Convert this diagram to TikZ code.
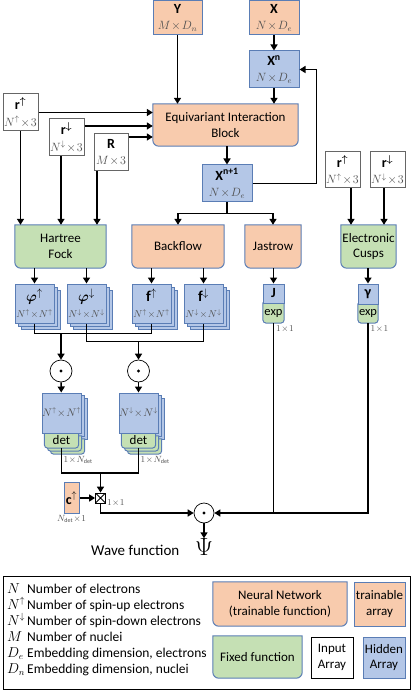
\documentclass[tikz,border=0pt]{standalone}
\usepackage{amsmath,amssymb}
\usepackage{fontspec}
\setmainfont{Carlito}
\usepackage{tikz}
\usetikzlibrary{calc,arrows.meta,positioning,shadows,backgrounds}

\definecolor{nnfill}{HTML}{F8CBAD}
\definecolor{hidfill}{HTML}{B4C7E7}
\definecolor{fixfill}{HTML}{C5E0B4}
\definecolor{bord}{HTML}{5A7DB5}
\definecolor{dimtxt}{HTML}{505050}

\newcommand{\arrtxt}[2]{{\fontsize{14}{14}\selectfont\bfseries #1}\\[1pt]{\color{dimtxt}\fontsize{11.5}{11.5}\selectfont\medmuskip=1.5mu$#2$}}
\newcommand{\stacktxt}[2]{{\fontsize{15}{15}\selectfont$#1$}\\[1pt]{\color{dimtxt}\fontsize{10}{10}\selectfont$#2$}}
\newcommand{\keysym}[1]{\makebox[20pt][l]{$#1$}}
\newcommand{\fnrad}{6pt}
% rounded lower corners, [offset] node fill
\newcommand{\fnpath}[3][0]{%
  \draw[fn line, fill=#3] ([shift={(#1pt,-#1pt)}]#2.north west) -- ([shift={(#1pt,-#1pt)}]#2.north east)
    -- ([shift={(#1pt,-#1pt+\fnrad)}]#2.south east) arc[start angle=0,end angle=-90,radius=\fnrad]
    -- ([shift={(#1pt+\fnrad,-#1pt)}]#2.south west) arc[start angle=-90,end angle=-180,radius=\fnrad] -- cycle;}
\newcommand{\stackrect}[2]{\draw[fn line, fill=hidfill] ([shift={(#2pt,-#2pt)}]#1.north west) rectangle ([shift={(#2pt,-#2pt)}]#1.south east);}

\tikzset{
    every node/.style={font=\fontsize{13}{15.5}\selectfont},
    box/.style={draw=bord, line width=1pt, inner sep=0pt, align=center, minimum width=50pt, minimum height=37pt},
    in node/.style={box, draw=black!60, fill=white},
    hid node/.style={box, fill=hidfill},
    nn node/.style={box, fill=nnfill},
    fn node/.style={inner sep=0pt, align=center, minimum height=43pt},
    stack node/.style={hid node, minimum width=39pt, minimum height=39pt,
        copy shadow={shadow xshift=6pt, shadow yshift=-6pt}, copy shadow={shadow xshift=3pt, shadow yshift=-3pt}},
    dot node/.style={circle, draw, line width=0.7pt, minimum size=22pt, inner sep=0pt,
        path picture={\fill (path picture bounding box.center) circle (1.7pt);}},
    dim label/.style={text=dimtxt, inner sep=1pt, font=\fontsize{9}{10}\selectfont},
    fn line/.style={draw=bord, line width=1pt},
    wire/.style={line width=1.6pt}
}

\begin{document}
\begin{tikzpicture}[x=1pt,y=1pt,>={Triangle[length=6pt,width=7pt]}]
    \useasboundingbox (0,0) rectangle (415,-692);

    % inputs and interaction block
    \node[nn node, minimum width=49pt, minimum height=34pt] (Y) at (177.5,-18) {\arrtxt{Y}{M\times D_n}};
    \node[nn node, minimum height=34pt] (X) at (274,-18) {\arrtxt{X}{N\times D_e}};
    \node[hid node] (xn) at (274,-69.5) {\arrtxt{X\textsuperscript{n}}{N\times D_e}};
    \node[fn node, minimum width=145pt, minimum height=42pt] (eib) at (225.5,-125) {Equivariant Interaction\\Block};
    \node[in node, minimum width=35pt] (rup) at (20.5,-112.5) {\arrtxt{r$^{\boldsymbol{\uparrow}}$}{N^{\uparrow}\times 3}};
    \node[in node, minimum width=35pt] (rdn) at (66.5,-137.5) {\arrtxt{r$^{\boldsymbol{\downarrow}}$}{N^{\downarrow}\times 3}};
    \node[in node, minimum width=34pt] (R) at (111,-152.5) {\arrtxt{R}{M\times 3}};
    \node[hid node] (xn1) at (227,-183.5) {\arrtxt{X\textsuperscript{n+1}}{N\times D_e}};
    \node[in node, minimum width=35pt, minimum height=36pt] (rup2) at (342.5,-170) {\arrtxt{r$^{\boldsymbol{\uparrow}}$}{N^{\uparrow}\times 3}};
    \node[in node, minimum width=35pt, minimum height=36pt] (rdn2) at (387.5,-170) {\arrtxt{r$^{\boldsymbol{\downarrow}}$}{N^{\downarrow}\times 3}};

    % functions
    \node[fn node, minimum width=91pt] (hf) at (60.5,-246.5) {Hartree\\Fock};
    \node[fn node, minimum width=92pt] (bf) at (178,-246.5) {Backflow};
    \node[fn node, minimum width=56pt] (js) at (273,-246.5) {Jastrow};
    \node[fn node, minimum width=55pt] (ec) at (368.5,-246.5) {Electronic\\Cusps};

    % orbitals
    \node[stack node] (phiu) at (34.5,-303.5) {\stacktxt{\boldsymbol{\varphi}^{\uparrow}}{N^{\uparrow}\!\times\! N^{\uparrow}}};
    \node[stack node] (phid) at (86.5,-303.5) {\stacktxt{\boldsymbol{\varphi}^{\downarrow}}{N^{\downarrow}\!\times\! N^{\downarrow}}};
    \node[stack node] (fu) at (151.5,-303.5) {\stacktxt{\mathbf{f}^{\uparrow}}{N^{\uparrow}\!\times\! N^{\uparrow}}};
    \node[stack node] (fd) at (203.5,-303.5) {\stacktxt{\mathbf{f}^{\downarrow}}{N^{\downarrow}\!\times\! N^{\downarrow}}};
    \node[hid node, minimum width=21pt, minimum height=19pt, font=\fontsize{14}{14}\selectfont\bfseries] (J) at (273.5,-293.5) {J};
    \node[fn node, minimum width=21pt, minimum height=20pt, font=\fontsize{12.5}{14}\selectfont] (jexp) at (273.5,-313) {exp};
    \node[hid node, minimum width=20pt, minimum height=20pt, font=\fontsize{14}{14}\selectfont\bfseries] (gam) at (368,-294) {γ};
    \node[fn node, minimum width=20pt, minimum height=19pt, font=\fontsize{12.5}{14}\selectfont] (gexp) at (368,-313.5) {exp};
    \node[dim label, anchor=north west] (jdim) at ([xshift=1.5pt,yshift=-1pt]jexp.south) {$1\!\times\!1$};
    \node[dim label, anchor=north west] (gdim) at ([xshift=1.5pt,yshift=-1pt]gexp.south) {$1\!\times\!1$};

    % products and determinants
    \node[dot node] (o1) at (61,-371) {};
    \node[dot node] (o2) at (138.5,-371) {};
    \node[hid node, minimum width=39pt, minimum height=40pt] (hl) at (61.5,-413) {\fontsize{10.5}{10}\selectfont\color{dimtxt}$N^{\uparrow}\!\times\! N^{\uparrow}$};
    \node[hid node, minimum width=39pt, minimum height=40pt] (hr) at (138.5,-413) {\fontsize{10.5}{10}\selectfont\color{dimtxt}$N^{\downarrow}\!\times\! N^{\downarrow}$};
    \node[fn node, minimum width=34pt, minimum height=15pt] (dl) at (61.5,-440.5) {det};
    \node[fn node, minimum width=34pt, minimum height=15pt] (dr) at (138.5,-440.5) {det};
    \node[dim label, anchor=north west] (dldim) at ([xshift=1pt,yshift=-7pt]dl.south) {$1\!\times\! N_{\mathrm{det}}$};
    \node[dim label, anchor=north west] (drdim) at ([xshift=1pt,yshift=-7pt]dr.south) {$1\!\times\! N_{\mathrm{det}}$};
    \node[draw, line width=0.8pt, minimum size=10pt, inner sep=0pt,
        path picture={\draw (path picture bounding box.north west) -- (path picture bounding box.south east)
                            (path picture bounding box.north east) -- (path picture bounding box.south west);}] (xb) at (100.5,-498) {};
    \node[nn node, minimum width=15pt, minimum height=31pt, font=\fontsize{14}{14}\selectfont] (c) at (71.5,-498) {$\mathbf{c}^{\uparrow}$};
    \node[dim label, anchor=north] (cdim) at (c.south) {$N_{\mathrm{det}}\!\times\!1$};
    \node[dim label, anchor=north west] (xbdim) at (xb.east) {$1\!\times\!1$};
    \node[dot node, minimum size=20pt] (o3) at (204,-513) {};
    \node[inner sep=0pt, font=\fontsize{28}{28}\selectfont] (psi) at (204,-547) {$\Psi$};
    \node[anchor=base east, font=\fontsize{15}{15}\selectfont] (wave) at ([xshift=-12pt]psi.base west) {Wave function};

    % legend
    \node[draw, line width=0.8pt, minimum width=407pt, minimum height=113pt] (legend) at (206.5,-632.5) {};
    \node[anchor=north west, align=left, inner sep=0pt, font=\fontsize{13.5}{16}\selectfont] (key) at (7,-583) {%
        \keysym{N}Number of electrons\\
        \keysym{N^{\uparrow}}Number of spin-up electrons\\
        \keysym{N^{\downarrow}}Number of spin-down electrons\\
        \keysym{M}Number of nuclei\\
        \keysym{D_e}Embedding dimension, electrons\\
        \keysym{D_n}Embedding dimension, nuclei};
    \node[fn node, minimum width=134pt, minimum height=44pt] (keynn) at (280,-604) {Neural Network\\(trainable function)};
    \node[nn node, minimum width=51pt, minimum height=44pt] (keytr) at (379.5,-604) {trainable\\array};
    \node[fn node, minimum width=89pt, minimum height=42pt] (keyfix) at (257.5,-657) {Fixed function};
    \node[box, draw=black, minimum width=42pt, minimum height=41pt] (keyin) at (332,-657.5) {Input\\Array};
    \node[hid node, minimum width=42pt, minimum height=41pt] (keyhid) at (384,-657.5) {Hidden\\Array};

    \begin{pgfonlayer}{background}
        \foreach \n/\c in {eib/nnfill,hf/fixfill,bf/nnfill,js/nnfill,ec/fixfill,keynn/nnfill,keyfix/fixfill}
            {\fnpath{\n}{\c}}
        \renewcommand{\fnrad}{3.5pt}
        \foreach \n in {jexp,gexp} {\fnpath{\n}{fixfill}}
        \foreach \d/\h in {dl/hl,dr/hr} {
            \foreach \s in {6,3} {\stackrect{\h}{\s} \fnpath[\s]{\d}{fixfill}}
            \fnpath{\d}{fixfill}
        }
    \end{pgfonlayer}

    % connectors
    \coordinate (rdnout) at ([yshift=11.5pt]rdn.east);
    \coordinate (Rout) at ([yshift=15.5pt]R.east);
    \coordinate (rdnd) at ([xshift=-5.5pt]rdn.south);
    \coordinate (Rd) at ([xshift=-14pt]R.south);
    \coordinate (rup2d) at ([xshift=8.5pt]rup2.south);
    \coordinate (rdn2d) at ([xshift=-3.5pt]rdn2.south);
    \coordinate (split) at ([yshift=-11pt]xn1.south);

    \draw[wire,->] (Y.south) -- (Y.south |- eib.north);
    \draw[wire,->] (X.south) -- (xn.north);
    \draw[wire,->] (xn.south) -- (xn.south |- eib.north);
    \draw[wire,->] (rup.east) -- (rup.east -| eib.west);
    \draw[wire,->] (rdnout) -- (rdnout -| eib.west);
    \draw[wire,->] (Rout) -- (Rout -| eib.west);
    \draw[wire,->] (rup.south) -- (rup.south |- hf.north);
    \draw[wire,->] (rdnd) -- (rdnd |- hf.north);
    \draw[wire,->] (Rd) -- (Rd |- hf.north);
    \draw[wire,->] (xn1.north |- eib.south) -- (xn1.north);
    \draw[wire,->] (xn1.east) -- ++(64,0) |- (xn.east);
    \draw[wire] (xn1.south) -- (split);
    \draw[wire,->] (split) -| (bf.north);
    \draw[wire,->] (split) -| (js.north);
    \draw[wire,->] (rup2d) -- (rup2d |- ec.north);
    \draw[wire,->] (rdn2d) -- (rdn2d |- ec.north);

    \foreach \s in {phiu,phid} \draw[wire,->] (\s.north |- hf.south) -- (\s.north);
    \foreach \s in {fu,fd} \draw[wire,->] (\s.north |- bf.south) -- (\s.north);
    \draw[wire,->] (J.north |- js.south) -- (J.north);
    \draw[wire,->] (gam.north |- ec.south) -- (gam.north);

    \coordinate (j1) at ([yshift=-10pt]phiu.south);
    \coordinate (j2) at ([yshift=-18pt]phid.south);
    \draw[wire] (phiu.south) -- (j1) -| (fu.south);
    \draw[wire] (phid.south) -- (j2) -| (fd.south);
    \draw[wire,->] (j1 -| o1) -- (o1);
    \draw[wire,->] (j2 -| o2) -- (o2);
    \draw[wire,->] (o1) -- (hl);
    \draw[wire,->] (o2) -- (hr);

    \coordinate (j3) at ([yshift=-25pt]dl.south);
    \draw[wire] (dl.south) -- (j3) -| (dr.south);
    \draw[wire,->] (j3 -| xb) -- (xb);
    \draw[wire,->] (c) -- (xb);
    \draw[wire,->] (xb.south) |- (o3.west);
    \draw[wire,->] (gexp.south) |- (o3.east);
    \draw[wire] (jexp.south) -- (jexp.south |- o3.east);
    \draw[wire,->] (o3) -- (psi);
\end{tikzpicture}
\end{document}
